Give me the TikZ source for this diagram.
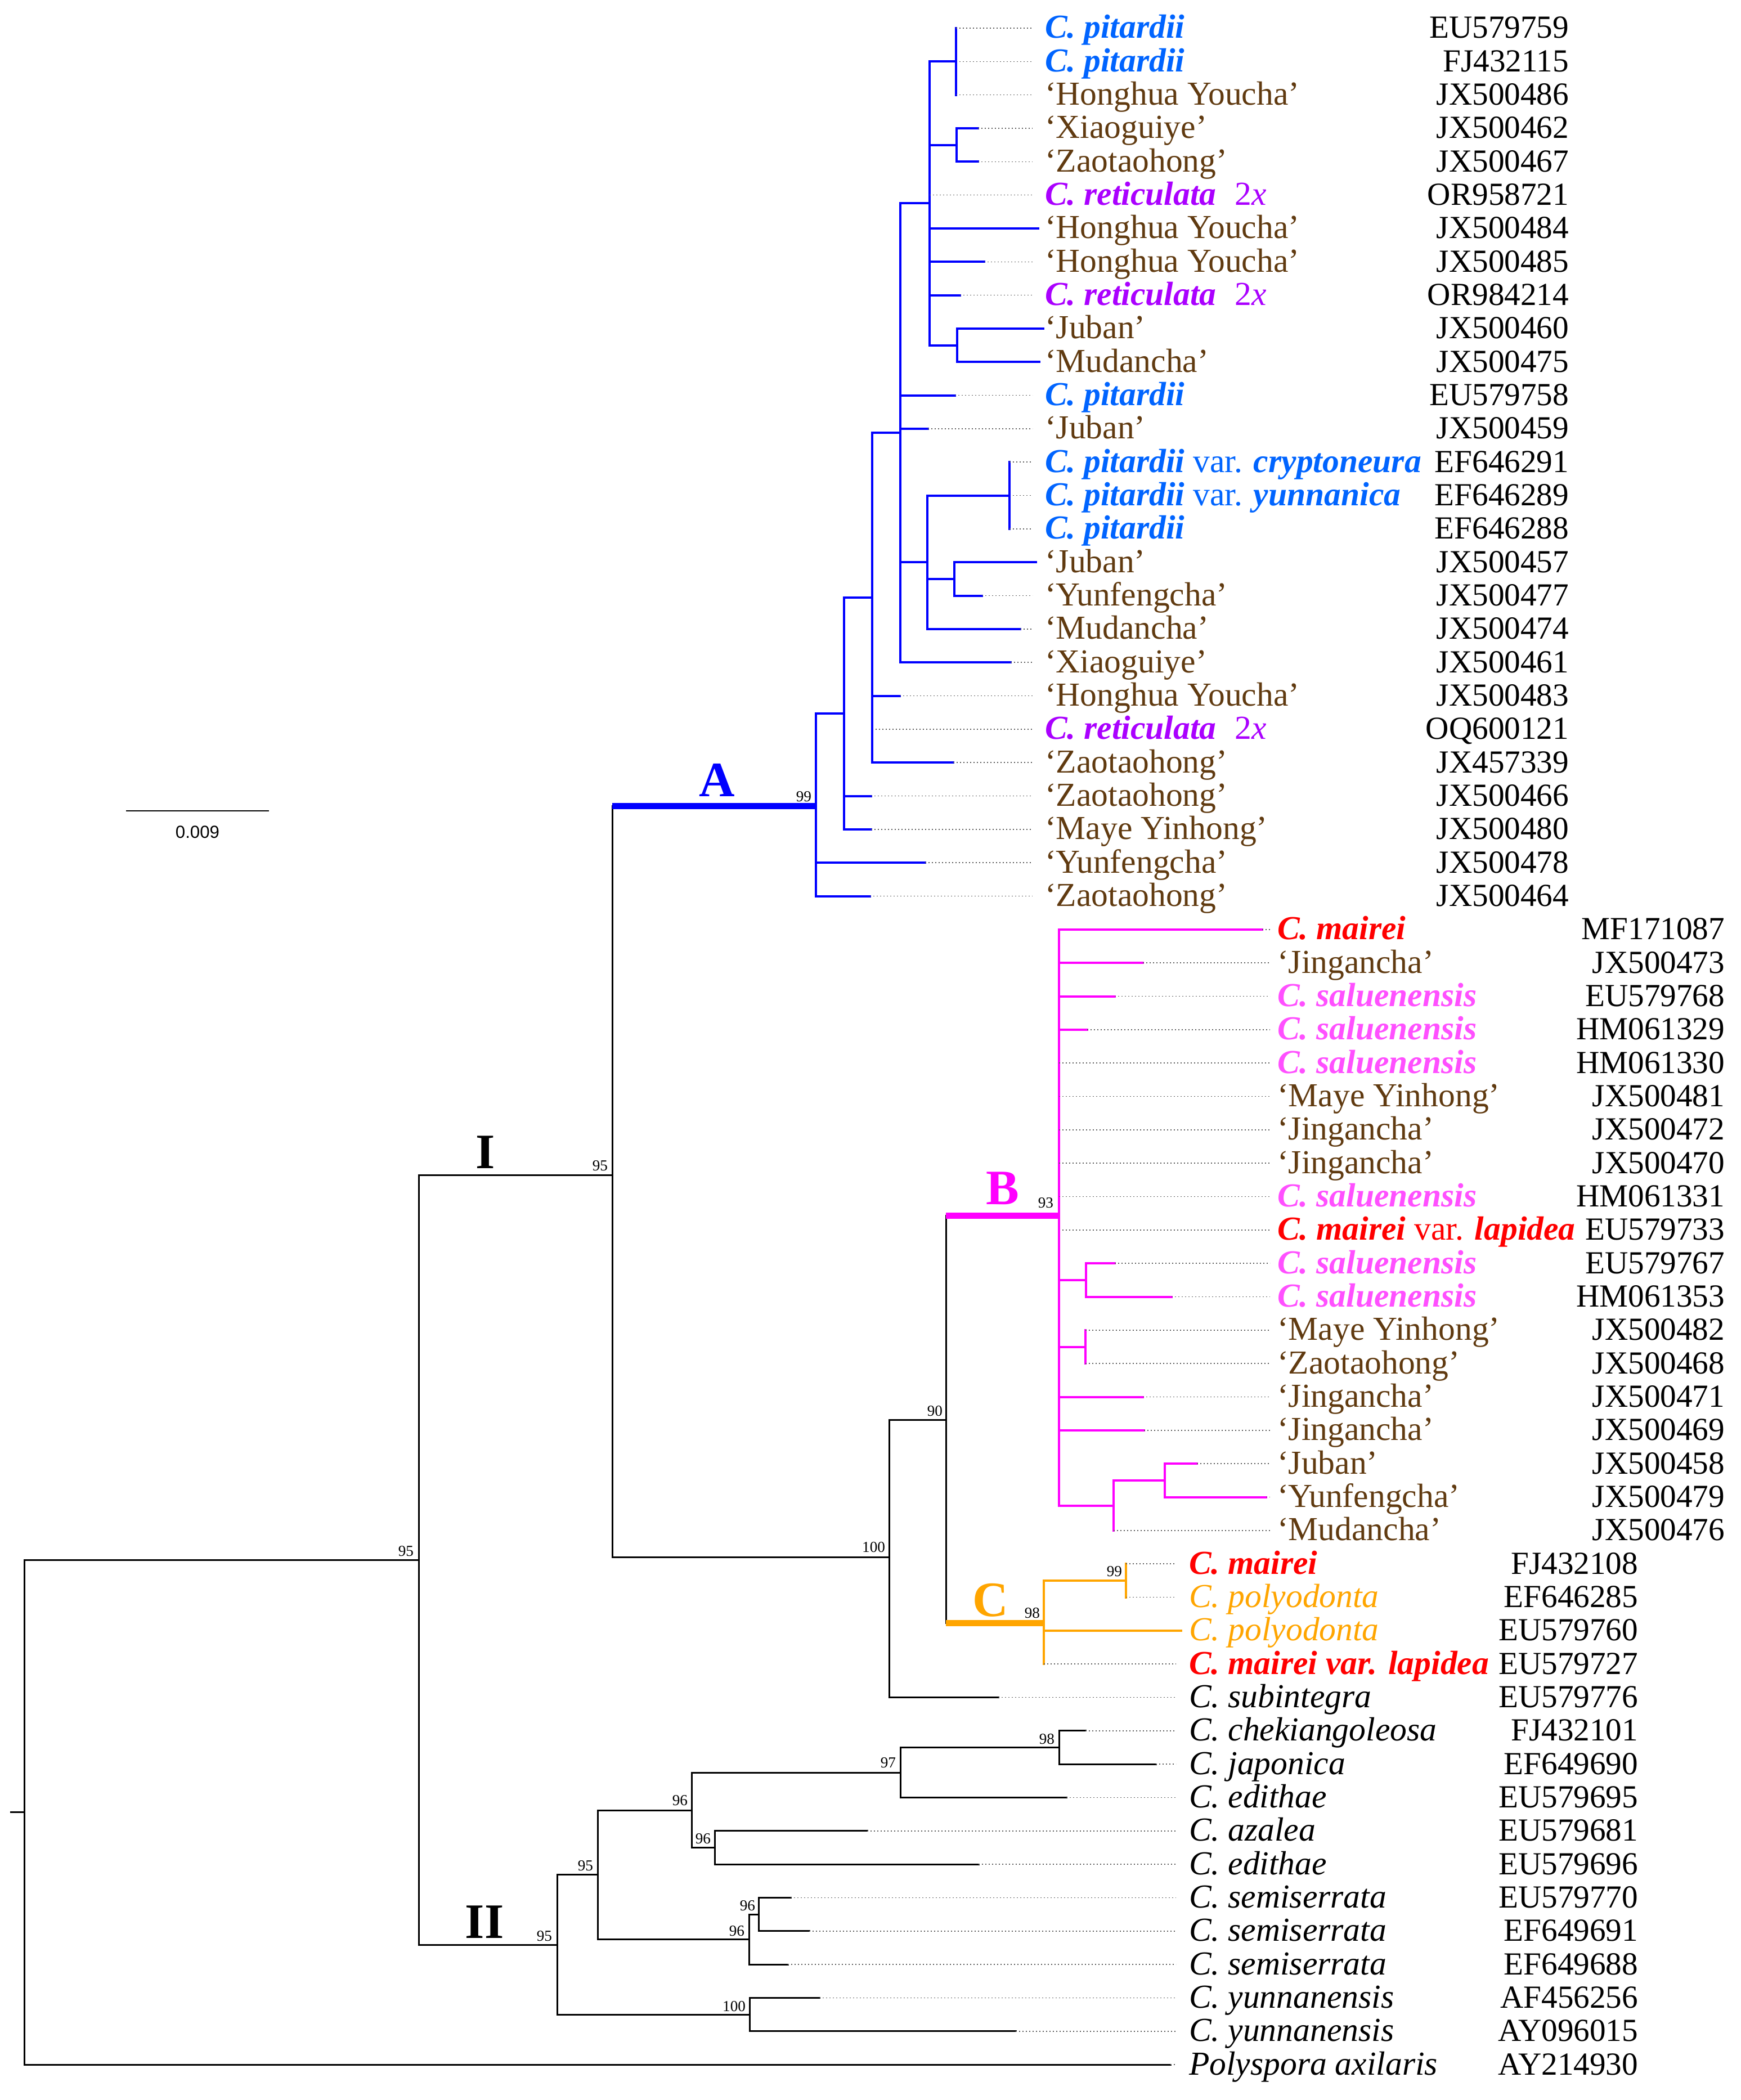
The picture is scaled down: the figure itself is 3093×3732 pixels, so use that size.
\documentclass[tikz,border=0pt]{standalone}
\usepackage{fontspec}
\setmainfont{Liberation Serif}
\newfontfamily\sbfont{Liberation Sans}
\definecolor{treeblue}{RGB}{0,0,255}
\definecolor{treemag}{RGB}{255,0,255}
\definecolor{treeorg}{RGB}{255,165,0}
\definecolor{pitc}{RGB}{0,100,255}
\definecolor{retc}{RGB}{170,0,255}
\definecolor{brownc}{RGB}{96,58,16}
\definecolor{salc}{RGB}{255,80,255}
\definecolor{redc}{RGB}{255,0,0}
\definecolor{dotc}{RGB}{90,90,90}
\pgfmathdeclarefunction{ly}{1}{\pgfmathparse{50+(#1-1)*59.33}}
\newcommand\bi[1]{\textbf{\textit{#1}}}
\newcommand\cv[1]{\textcolor{brownc}{‘#1’}}
\newcommand\pit[1]{\textcolor{pitc}{#1}}
\newcommand\mai[1]{\textcolor{redc}{#1}}
\newcommand\ret{\textcolor{retc}{\bi{C. reticulata}\hspace{0.55em}2\textit{x}}}
\newcommand\sal{\textcolor{salc}{\bi{C. saluenensis}}}
\newcommand\pol{\textcolor{treeorg}{\textit{C. polyodonta}}}
% leaf: idx, parent, tip x, branch style, dot end, label x, acc right x, text, accession
\newcommand\lf[9]{%
  \coordinate (tip#1) at (#3,{ly(#1)});
  \draw[#4] (#2) |- (tip#1);
  \coordinate (dot#1) at ({max(#3,#5)},{ly(#1)});
  \draw[dotl] (tip#1) -- (dot#1);
  \node[lab,anchor=base west] (name#1) at (#6,{ly(#1)+18}) {#8};
  \node[acclab,anchor=base east] (acc#1) at (#7,{ly(#1)+18}) {#9};
}
\newcommand\lfA[6]{\lf{#1}{#2}{#3}{#4}{1835}{1857}{2788}{#5}{#6}}
\newcommand\lfB[6]{\lf{#1}{#2}{#3}{#4}{2257}{2270}{3065}{#5}{#6}}
\newcommand\lfC[6]{\lf{#1}{#2}{#3}{#4}{2090}{2113}{2911}{#5}{#6}}
\tikzset{
  blk/.style={line width=0.75pt, draw=black, line cap=rect},
  bluet/.style={line width=1pt, draw=treeblue, line cap=rect},
  magt/.style={line width=1pt, draw=treemag, line cap=rect},
  orgt/.style={line width=1pt, draw=treeorg, line cap=rect},
  thk/.style={line width=2.75pt, line cap=butt},
  dotl/.style={line width=0.4pt, draw=dotc, dash pattern=on 0.4pt off 1.1pt},
  lab/.style={inner sep=0pt, outer sep=0pt, font=\fontsize{14.9}{17}\selectfont},
  acclab/.style={inner sep=0pt, outer sep=0pt, font=\fontsize{14.3}{17}\selectfont},
  bs/.style={inner sep=0pt, outer sep=0pt, anchor=base east, font=\fontsize{6.8}{8}\selectfont},
  cl/.style={inner sep=0pt, outer sep=0pt, anchor=base, font=\fontsize{22}{26}\selectfont\bfseries},
}
\begin{document}
\begin{tikzpicture}[x=0.25pt,y=-0.25pt]
\useasboundingbox (0,0) rectangle (3093,3732);
% ---------- internal nodes ----------
\coordinate (a4a) at (1699,109.3);
\coordinate (a4b) at (1700,257.7);
\coordinate (a4c) at (1701,613.7);
\coordinate (a4) at (1652,361.5);
\coordinate (a6) at (1794,880.6);
\coordinate (a7) at (1696,1029);
\coordinate (a5) at (1648,999.3);
\coordinate (a3) at (1600,769.4);
\coordinate (a2) at (1550,1062.4);
\coordinate (a1) at (1500,1268.2);
\coordinate (nA) at (1450,1432);
\coordinate (b1) at (1930,2275);
\coordinate (b2) at (1929,2393.7);
\coordinate (b4) at (2070,2631);
\coordinate (b3) at (1979,2675.5);
\coordinate (nB) at (1882,2160);
\coordinate (c1) at (2001,2809);
\coordinate (nC) at (1855,2884);
\coordinate (n90) at (1681,2523.4);
\coordinate (n100) at (1580,2767);
\coordinate (n95) at (1088,2088);
\coordinate (n98) at (1882,3105.7);
\coordinate (n97) at (1600,3150.2);
\coordinate (n96b) at (1270,3283.7);
\coordinate (n96a) at (1229,3217);
\coordinate (n96d) at (1348,3402.3);
\coordinate (n96c) at (1331,3446.8);
\coordinate (n95a) at (1062,3331.9);
\coordinate (n100b) at (1332,3580.3);
\coordinate (nII) at (990,3456);
\coordinate (nI) at (744,2772);
\coordinate (root) at (43,3220);
\coordinate (rootstub) at (19,3220);
% ---------- internal edges ----------
\draw[bluet] (a4) |- (a4a);
\draw[bluet] (a4) |- (a4b);
\draw[bluet] (a4) |- (a4c);
\draw[bluet] (a3) |- (a4);
\draw[bluet] (a3) |- (a5);
\draw[bluet] (a5) |- (a6);
\draw[bluet] (a5) |- (a7);
\draw[bluet] (a2) |- (a3);
\draw[bluet] (a1) |- (a2);
\draw[bluet] (nA) |- (a1);
\draw[magt] (nB) |- (b1);
\draw[magt] (nB) |- (b2);
\draw[magt] (nB) |- (b3);
\draw[magt] (b3) |- (b4);
\draw[orgt] (nC) |- (c1);
\draw[blk] (n97) |- (n98);
\draw[blk] (n96a) |- (n97);
\draw[blk] (n96a) |- (n96b);
\draw[blk] (n95a) |- (n96a);
\draw[blk] (n95a) |- (n96c);
\draw[blk] (n96c) |- (n96d);
\draw[blk] (nII) |- (n95a);
\draw[blk] (nII) |- (n100b);
\draw[blk] (nI) |- (n95);
\draw[blk] (nI) |- (nII);
\draw[blk] (root) |- (nI);
\draw[blk] (rootstub) -- (root);
\draw[blk] (n95) |- (n100);
\draw[blk] (n95) -- (n95 |- nA);
\draw[thk,draw=treeblue] (n95 |- nA) -- (nA);
\draw[blk] (n100) |- (n90);
\draw[blk] (n90) -- (n90 |- nB);
\draw[blk] (n90) -- (n90 |- nC);
\draw[thk,draw=treemag] (n90 |- nB) -- (nB);
\draw[thk,draw=treeorg] (n90 |- nC) -- (nC);
% ---------- clade A ----------
\lfA{1}{a4a}{1699}{bluet}{\pit{\bi{C. pitardii}}}{EU579759}
\lfA{2}{a4a}{1699}{bluet}{\pit{\bi{C. pitardii}}}{FJ432115}
\lfA{3}{a4a}{1699}{bluet}{\cv{Honghua Youcha}}{JX500486}
\lfA{4}{a4b}{1738}{bluet}{\cv{Xiaoguiye}}{JX500462}
\lfA{5}{a4b}{1738}{bluet}{\cv{Zaotaohong}}{JX500467}
\lfA{6}{a4}{1652}{bluet}{\ret}{OR958721}
\lfA{7}{a4}{1845}{bluet}{\cv{Honghua Youcha}}{JX500484}
\lfA{8}{a4}{1749}{bluet}{\cv{Honghua Youcha}}{JX500485}
\lfA{9}{a4}{1706}{bluet}{\ret}{OR984214}
\lfA{10}{a4c}{1854}{bluet}{\cv{Juban}}{JX500460}
\lfA{11}{a4c}{1847}{bluet}{\cv{Mudancha}}{JX500475}
\lfA{12}{a3}{1697}{bluet}{\pit{\bi{C. pitardii}}}{EU579758}
\lfA{13}{a3}{1649}{bluet}{\cv{Juban}}{JX500459}
\lfA{14}{a6}{1794}{bluet}{\pit{\bi{C. pitardii} var. \bi{cryptoneura}}}{EF646291}
\lfA{15}{a6}{1794}{bluet}{\pit{\bi{C. pitardii} var. \bi{yunnanica}}}{EF646289}
\lfA{16}{a6}{1794}{bluet}{\pit{\bi{C. pitardii}}}{EF646288}
\lfA{17}{a7}{1841}{bluet}{\cv{Juban}}{JX500457}
\lfA{18}{a7}{1745}{bluet}{\cv{Yunfengcha}}{JX500477}
\lfA{19}{a5}{1813}{bluet}{\cv{Mudancha}}{JX500474}
\lfA{20}{a3}{1796}{bluet}{\cv{Xiaoguiye}}{JX500461}
\lfA{21}{a2}{1599}{bluet}{\cv{Honghua Youcha}}{JX500483}
\lfA{22}{a2}{1550}{bluet}{\ret}{OQ600121}
\lfA{23}{a2}{1694}{bluet}{\cv{Zaotaohong}}{JX457339}
\lfA{24}{a1}{1548}{bluet}{\cv{Zaotaohong}}{JX500466}
\lfA{25}{a1}{1548}{bluet}{\cv{Maye Yinhong}}{JX500480}
\lfA{26}{nA}{1644}{bluet}{\cv{Yunfengcha}}{JX500478}
\lfA{27}{nA}{1546}{bluet}{\cv{Zaotaohong}}{JX500464}
% ---------- clade B ----------
\lfB{28}{nB}{2243}{magt}{\mai{\bi{C. mairei}}}{MF171087}
\lfB{29}{nB}{2031}{magt}{\cv{Jingancha}}{JX500473}
\lfB{30}{nB}{1981}{magt}{\sal}{EU579768}
\lfB{31}{nB}{1932}{magt}{\sal}{HM061329}
\lfB{32}{nB}{1882}{magt}{\sal}{HM061330}
\lfB{33}{nB}{1882}{magt}{\cv{Maye Yinhong}}{JX500481}
\lfB{34}{nB}{1882}{magt}{\cv{Jingancha}}{JX500472}
\lfB{35}{nB}{1882}{magt}{\cv{Jingancha}}{JX500470}
\lfB{36}{nB}{1882}{magt}{\sal}{HM061331}
\lfB{37}{nB}{1882}{magt}{\mai{\bi{C. mairei} var. \bi{lapidea}}}{EU579733}
\lfB{38}{b1}{1981}{magt}{\sal}{EU579767}
\lfB{39}{b1}{2082}{magt}{\sal}{HM061353}
\lfB{40}{b2}{1929}{magt}{\cv{Maye Yinhong}}{JX500482}
\lfB{41}{b2}{1929}{magt}{\cv{Zaotaohong}}{JX500468}
\lfB{42}{nB}{2031}{magt}{\cv{Jingancha}}{JX500471}
\lfB{43}{nB}{2033}{magt}{\cv{Jingancha}}{JX500469}
\lfB{44}{b4}{2127}{magt}{\cv{Juban}}{JX500458}
\lfB{45}{b4}{2250}{magt}{\cv{Yunfengcha}}{JX500479}
\lfB{46}{b3}{1979}{magt}{\cv{Mudancha}}{JX500476}
% ---------- clade C ----------
\lfC{47}{c1}{2001}{orgt}{\mai{\bi{C. mairei}}}{FJ432108}
\lfC{48}{c1}{2001}{orgt}{\pol}{EF646285}
\lfC{49}{nC}{2099}{orgt}{\pol}{EU579760}
\lfC{50}{nC}{1855}{orgt}{\mai{\bi{C. mairei var. lapidea}}}{EU579727}
% ---------- others ----------
\lfC{51}{n100}{1774}{blk}{\textit{C. subintegra}}{EU579776}
\lfC{52}{n98}{1929}{blk}{\textit{C. chekiangoleosa}}{FJ432101}
\lfC{53}{n98}{2054}{blk}{\textit{C. japonica}}{EF649690}
\lfC{54}{n97}{1895}{blk}{\textit{C. edithae}}{EU579695}
\lfC{55}{n96b}{1541}{blk}{\textit{C. azalea}}{EU579681}
\lfC{56}{n96b}{1739}{blk}{\textit{C. edithae}}{EU579696}
\lfC{57}{n96d}{1405}{blk}{\textit{C. semiserrata}}{EU579770}
\lfC{58}{n96d}{1438}{blk}{\textit{C. semiserrata}}{EF649691}
\lfC{59}{n96c}{1400}{blk}{\textit{C. semiserrata}}{EF649688}
\lfC{60}{n100b}{1456}{blk}{\textit{C. yunnanensis}}{AF456256}
\lfC{61}{n100b}{1805}{blk}{\textit{C. yunnanensis}}{AY096015}
\lfC{62}{root}{2080}{blk}{\textit{Polyspora axilaris}}{AY214930}
% ---------- clade letters ----------
\node[cl,text=treeblue] (labA) at (1274,1415) {A};
\node[cl,text=treemag] (labB) at (1782,2140) {B};
\node[cl,text=treeorg] (labC) at (1760,2872) {C};
\node[cl] (labI) at (863,2076) {I};
\node[cl] (labII) at (861,3444) {II};
% ---------- bootstrap ----------
\node[bs] (bs1) at (1442,1424) {99};
\node[bs] (bs2) at (1872,2146) {93};
\node[bs] (bs3) at (1675,2516) {90};
\node[bs] (bs4) at (1573,2758) {100};
\node[bs] (bs5) at (1848,2875) {98};
\node[bs] (bs6) at (1994,2801) {99};
\node[bs] (bs7) at (1080,2080) {95};
\node[bs] (bs8) at (735,2765) {95};
\node[bs] (bs9) at (981,3449) {95};
\node[bs] (bs10) at (1054,3324) {95};
\node[bs] (bs11) at (1222,3208) {96};
\node[bs] (bs12) at (1263,3276) {96};
\node[bs] (bs13) at (1592,3141) {97};
\node[bs] (bs14) at (1874,3099) {98};
\node[bs] (bs15) at (1323,3440) {96};
\node[bs] (bs16) at (1342,3395) {96};
\node[bs] (bs17) at (1325,3574) {100};
% ---------- scale bar ----------
\coordinate (sb1) at (224,1441);
\coordinate (sb2) at (478,1441);
\draw[line width=0.5pt] (sb1) -- (sb2);
\node[inner sep=0pt, anchor=base, font=\sbfont\fontsize{7.8}{9}\selectfont] (sbl) at (351,1489) {0.009};
\end{tikzpicture}
\end{document}
